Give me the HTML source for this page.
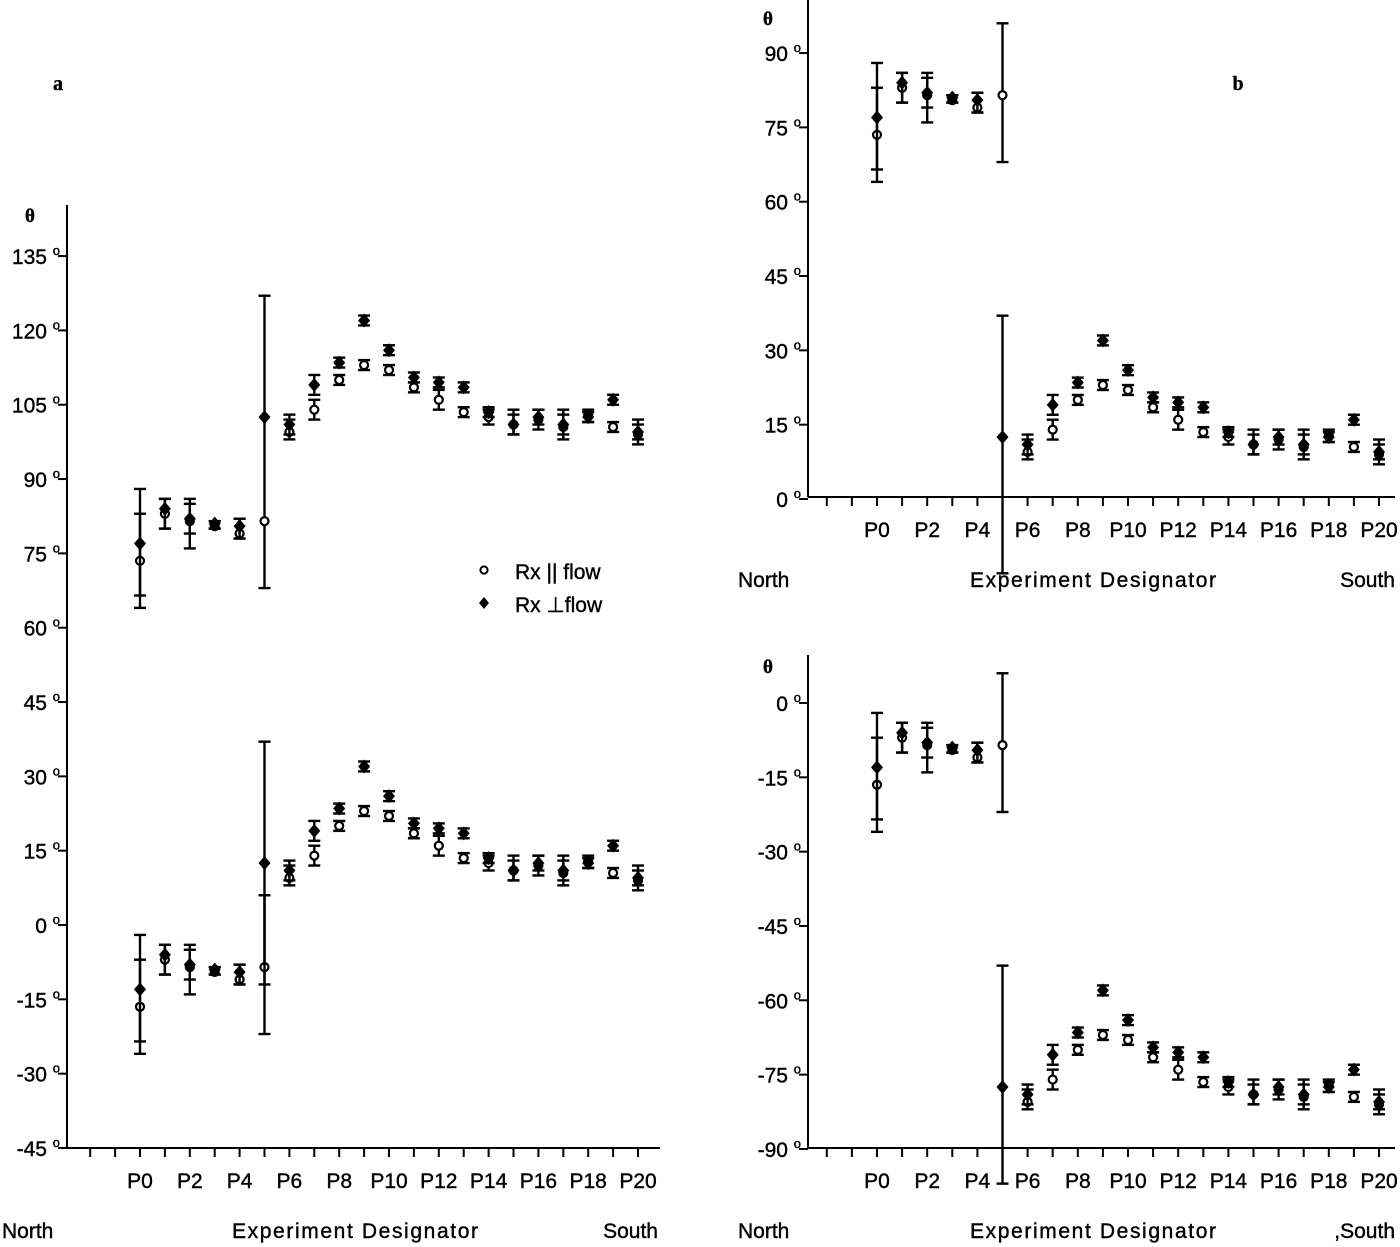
<!DOCTYPE html>
<html><head><meta charset="utf-8"><style>
html,body{margin:0;padding:0;background:#fff;}
svg{display:block;font-family:"Liberation Sans",Arial,sans-serif;}
</style></head><body>
<svg id="chart" width="1400" height="1247" viewBox="0 0 1400 1247" xmlns="http://www.w3.org/2000/svg"></svg>
<script>
const cats = ['P0','P1','P2','P3','P4','P5','P6','P7','P8','P9','P10','P11','P12','P13','P14','P15','P16','P17','P18','P19','P20'];
const circ = [73.5,83,81.5,80.5,79,81.5,99.5,104,110,113,112,108.5,106,103.5,102.5,101,102,100.5,103,100.5,99];
const dia  = [77,84,82,81,80.5,102.5,101,109,113.5,122,116,110.5,109.5,108.5,103.5,101,102.5,101,102.5,106,99.5];
const circLo = [64,80,76,80,78,68,98,102,109,112,111,107.5,104,102.5,101,99,100,98,101.5,99.5,97];
const circHi = [83,86,86,81.5,82,127,103,106,111,114,113,109.5,108,104.5,104,104,104,104,104,101.5,102];
const diaLo = [66.5,80,79,80,78,78,99,107,112.5,121,115,109.5,108.5,107.5,102.5,99,101,99,101.5,105,98];
const diaHi = [88,86,85,81.5,82,96,102,111,114.5,123,117,111.5,110.5,109.5,104.5,103,104,103,103.5,107,101];
const ticksA = [135,120,105,90,75,60,45,30,15,0,-15,-30,-45];
const ticksBTop = [90,75,60,45,30,15,0];
const ticksBBot = [0,-15,-30,-45,-60,-75,-90];

const svg = document.getElementById('chart');
const NS = 'http://www.w3.org/2000/svg';
function el(tag, attrs, parent){const e=document.createElementNS(NS,tag);for(const k in attrs)e.setAttribute(k,attrs[k]);(parent||svg).appendChild(e);return e;}
function txt(x,y,s,size,anchor,parent,family,weight){const t=el('text',{x:x,y:y,'font-size':size,'text-anchor':anchor||'start',fill:'#000',stroke:'#000','stroke-width':0.4},parent);if(family)t.setAttribute('font-family',family);if(weight)t.setAttribute('font-weight',weight);t.textContent=s;return t;}

function panel(name, cfg){
  const g = el('g',{});
  
  
  const PX = 4.955;
  const ys = v => cfg.zeroY - v*PX;
  const xs = i => cfg.x0 + i*cfg.step;
  const ya = el('line',{x1:cfg.axX,y1:cfg.axTop,x2:cfg.axX,y2:cfg.axBot,stroke:'#000','stroke-width':2},g);
  
  
  cfg.ticks.forEach(v=>{
    const y=ys(v);
    el('line',{x1:cfg.axX-9,y1:y,x2:cfg.axX,y2:y,stroke:'#000','stroke-width':2},g);
    const t=txt(cfg.axX-7,y+8,v+' ',21,'end',g);
    const sp=el('tspan',{'font-size':13,dy:-9},t);
    sp.textContent='o';
    
    
  });
  const th=txt(cfg.thetaX,cfg.thetaY,'θ',19,'middle',g,'"Liberation Serif",serif','bold');
  
  
  const xa = el('line',{x1:cfg.axX,y1:cfg.axBot,x2:cfg.axRight,y2:cfg.axBot,stroke:'#000','stroke-width':2},g);
  
  
  for(let i=-2;i<=21;i++){
    const x=xs(i); if(x<cfg.axX+5||x>cfg.axRight) continue;
    el('line',{x1:x,y1:cfg.axBot,x2:x,y2:cfg.axBot+9,stroke:'#000','stroke-width':2},g);
  }
  cats.forEach((c,i)=>{ if(i%2===0){
    const t=txt(xs(i),cfg.axBot+40,c,21,'middle',g);
    
    
  }});
  const n=txt(cfg.northX,cfg.labY,'North',21,'start',g);
  
  
  const e=txt(cfg.edX,cfg.labY,'Experiment Designator',21,'middle',g);
  e.setAttribute('textLength',246);
  
  
  const s=txt(cfg.southX,cfg.labY,cfg.southText,21,'end',g);
  
  
  cfg.series.forEach(sr=>{
    sr.idx.forEach(i=>{
      const v=(sr.kind==='c'?circ[i]:dia[i])+sr.off;
      let lo=(sr.kind==='c'?circLo[i]:diaLo[i])+sr.off;
      let hi=(sr.kind==='c'?circHi[i]:diaHi[i])+sr.off;
      if(sr.over && sr.over[i]){lo=sr.over[i][0];hi=sr.over[i][1];}
      const x=xs(i);
      if(hi-lo>0.5){
        const b=el('line',{x1:x,y1:ys(hi),x2:x,y2:ys(lo),stroke:'#000','stroke-width':2.4},g);
        
        
        el('line',{x1:x-6,y1:ys(hi),x2:x+6,y2:ys(hi),stroke:'#000','stroke-width':2.4},g);
        el('line',{x1:x-6,y1:ys(lo),x2:x+6,y2:ys(lo),stroke:'#000','stroke-width':2.4},g);
      }
      const y=ys(v);
      let m;
      if(sr.kind==='c'){ m=el('circle',{cx:x,cy:y,r:4,fill:'#fff',stroke:'#000','stroke-width':2.2},g); }
      else { m=el('polygon',{points:`${x},${y-7} ${x+6},${y} ${x},${y+7} ${x-6},${y}`,fill:'#000'},g); }
      
      
    });
  });
}
const r = (a,b)=>{const o=[];for(let i=a;i<=b;i++)o.push(i);return o;};

panel('panel-a',{zeroY:925,x0:140,step:24.9,axX:67,axTop:205,axBot:1148,axRight:660,ticks:ticksA,thetaX:30,thetaY:222,
  northX:2,edX:355,southX:658,southText:'South',labY:1238,
  series:[{kind:'c',off:0,idx:r(0,20)},{kind:'d',off:0,idx:r(0,20),over:{5:[96,96]}},
          {kind:'c',off:-90,idx:r(0,20),over:{5:[-22,37]}},{kind:'d',off:-90,idx:r(0,20),over:{5:[-12,6]}}]});

panel('panel-b-top',{zeroY:499,x0:877,step:25.1,axX:808,axTop:0,axBot:497,axRight:1395,ticks:ticksBTop,thetaX:768,thetaY:25,
  northX:738,edX:1093,southX:1395,southText:'South',labY:587,
  series:[{kind:'c',off:0,idx:r(0,5),over:{5:[68,96]}},{kind:'d',off:0,idx:r(0,4)},
          {kind:'c',off:-90,idx:r(6,20)},{kind:'d',off:-90,idx:r(5,20),over:{5:[-15,37]}}]});

panel('panel-b-bottom',{zeroY:703,x0:877,step:25.1,axX:808,axTop:655,axBot:1148,axRight:1395,ticks:ticksBBot,thetaX:768,thetaY:673,
  northX:738,edX:1093,southX:1395,southText:',South',labY:1238,
  series:[{kind:'c',off:-90,idx:r(0,5),over:{5:[-22,6]}},{kind:'d',off:-90,idx:r(0,4)},
          {kind:'c',off:-180,idx:r(6,20)},{kind:'d',off:-180,idx:r(5,20),over:{5:[-97,-53]}}]});

const la=txt(58,90,'a',20,'middle',null,'"Liberation Serif",serif','bold');


const lb=txt(1238,90,'b',20,'middle',null,'"Liberation Serif",serif','bold');


const lg=el('g',{});


el('circle',{cx:484,cy:570,r:3.6,fill:'#fff',stroke:'#000','stroke-width':2},lg);
txt(515,579,'Rx || flow',21,'start',lg);
el('polygon',{points:'484,597 489,603 484,609 479,603',fill:'#000'},lg);
txt(515,612,'Rx  ⊥flow',21,'start',lg);
</script>
</body></html>
